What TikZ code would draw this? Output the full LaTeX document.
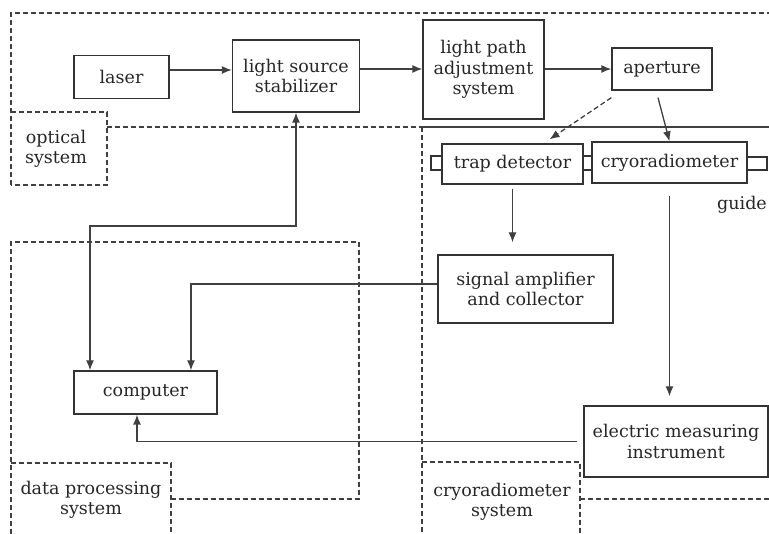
\documentclass[tikz,border=0pt]{standalone}
\usepackage{fontspec}
\setmainfont{DejaVu Serif}
\usetikzlibrary{arrows.meta}
\begin{document}
\begin{tikzpicture}[x=1pt,y=-1pt,>={Latex[length=10pt,width=8pt]},
  font=\fontsize{17.5}{20.5}\selectfont,
  box/.style={draw=black!80,line width=1.3pt,inner sep=0pt,align=center,text=black!85},
  lbl/.style={align=center,inner sep=0pt,text=black!85},
  region/.style={draw=black!75,line width=1.1pt,dash pattern=on 5pt off 3pt},
  link/.style={draw=black!75,line width=1.3pt}]
\useasboundingbox (0,0) rectangle (769,534);
% blocks
\node[box,minimum width=95pt,minimum height=43pt] (laser) at (121.5,77) {laser};
\node[box,minimum width=127pt,minimum height=72pt] (stab) at (296,76) {light source\\stabilizer};
\node[box,minimum width=121pt,minimum height=99pt] (lpath) at (483.5,69.5) {light path\\adjustment\\system};
\node[box,minimum width=100pt,minimum height=42pt] (aperture) at (662,69) {aperture};
\node[box,minimum width=141pt,minimum height=40pt] (trap) at (512.5,164) {trap detector};
\node[box,minimum width=155pt,minimum height=41pt] (cryo) at (669.5,162.5) {cryoradiometer};
\node[box,minimum width=175pt,minimum height=68pt] (amp) at (525.5,289) {signal amplifier\\and collector};
\node[box,minimum width=184pt,minimum height=71pt] (emi) at (676,441.5) {electric measuring\\instrument};
\node[box,minimum width=143pt,minimum height=43pt] (computer) at (145.5,392.5) {computer};
% guide ports
\draw[box] (431,156) rectangle (trap.west|-0,170);
\draw[box] (trap.east|-0,156) rectangle (cryo.west|-0,170);
\draw[box] (cryo.east|-0,157) rectangle (767,170);
\node[lbl] (guide) at (742,205) {guide};
% regions
\draw[region] (107,127) -- (422,127);
\draw[region] (11,185) -- (11,13) -- (769,13);
\draw[region] (11,112) -- (107,112) -- (107,185) -- (11,185);
\node[lbl] (optlbl) at (56,149) {optical\\system};
\draw[region] (171,499) -- (359,499) -- (359,242) -- (11,242) -- (11,534);
\draw[region] (11,463) -- (171,463) -- (171,534);
\node[lbl] (datalbl) at (91,500) {data processing\\system};
\draw[link] (422,127) -- (769,127);
\draw[region] (422,127) -- (422,534);
\draw[region] (422,462) -- (580,462) -- (580,534);
\draw[region] (580,499) -- (769,499);
\node[lbl] (cryolbl) at (502,502) {cryoradiometer\\system};
% connections
\draw[link,->] ([yshift=7pt]laser.east) -- ([yshift=7pt]laser.east -| stab.west);
\draw[link,->] ([yshift=7pt]stab.east) -- ([yshift=7pt]stab.east -| lpath.west);
\draw[link,->] (lpath.east |- aperture.west) -- (aperture.west);
\draw[link,->,dash pattern=on 5pt off 3pt] ([yshift=-7pt]aperture.south west) -- ([xshift=37pt,yshift=4pt]trap.north);
\draw[link,->] ([xshift=-4pt,yshift=-7pt]aperture.south) -- (cryo.north);
\draw[link,->,shorten <=4pt,shorten >=12pt] (trap.south) -- (trap.south |- amp.north);
\draw[link,->,shorten <=12pt,shorten >=9pt] (cryo.south) -- (cryo.south |- emi.north);
\coordinate (bus) at (90,226);
\draw[link,<->] (stab.south) |- (bus) -- (bus |- computer.north);
\draw[link,->] ([yshift=5pt]amp.west) -| ([xshift=45.5pt]computer.north);
\draw[link,->,shorten <=6pt] (emi.west) -| ([xshift=-8.5pt]computer.south);
\end{tikzpicture}
\end{document}
